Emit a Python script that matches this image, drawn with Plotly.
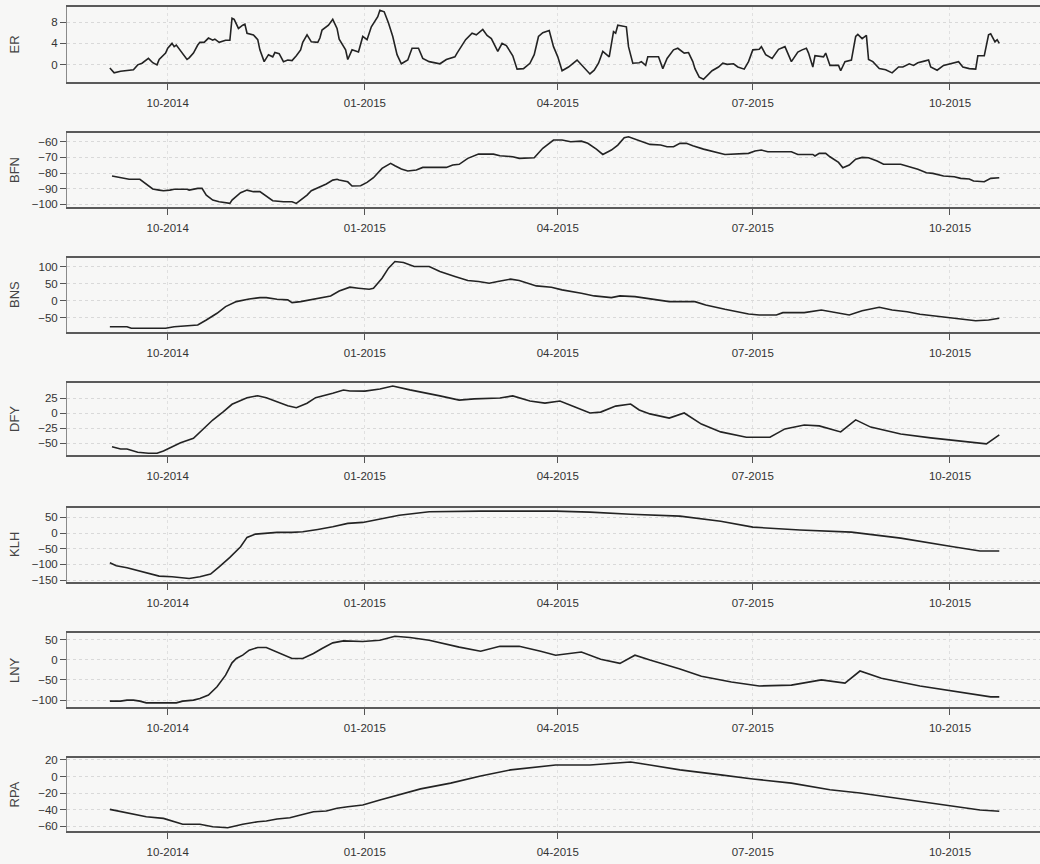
import pandas as pd
import plotly.graph_objects as go

base_date = pd.Timestamp("2014-10-01")

er_days = [-27,-25,-22,-19,-16,-14,-12,-9,-7,-5,-4,-1,0,2,3,4,7,9,10,12,14,15,17,19,21,22,24,27,29,30,31,33,35,36,37,40,42,43,45,47,49,50,52,54,56,58,60,62,63,65,67,70,71,72,75,77,79,80,83,84,86,89,91,93,95,98,99,101,103,105,107,109,112,114,117,119,122,127,130,134,135,139,142,144,147,149,151,154,156,158,161,163,166,169,171,173,175,178,180,182,184,187,191,194,197,199,201,203,206,208,209,210,214,215,217,220,221,223,224,229,231,233,236,238,241,243,244,245,246,248,250,252,254,257,259,261,264,266,269,271,273,276,277,279,282,285,288,291,294,296,298,299,301,302,306,307,309,313,314,316,319,321,322,324,326,327,329,332,335,338,341,343,346,348,350,353,355,356,359,362,367,369,371,374,377,378,381,383,384,386,387,388]
er_vals = [-0.6,-1.5,-1.2,-1.1,-0.9,0.0,0.3,1.2,0.4,0.0,1.0,2.2,3.1,4.0,3.4,3.7,2.2,1.0,1.3,2.2,3.7,4.2,4.2,5.0,4.6,4.8,4.2,4.6,4.6,8.7,8.5,6.8,7.4,7.6,5.9,5.6,4.7,2.8,0.6,1.9,1.5,2.3,2.1,0.6,0.9,0.8,1.7,2.8,4.2,5.6,4.3,4.2,5.0,6.5,7.4,8.5,6.8,4.8,2.8,1.0,2.8,2.4,5.3,4.7,7.1,9.0,10.2,9.9,7.8,5.3,1.9,0.2,0.9,3.1,3.1,1.2,0.6,0.2,1.0,1.5,2.2,4.7,5.9,5.6,6.6,5.5,4.9,2.5,4.0,3.6,1.7,-0.8,-0.7,0.3,1.9,5.3,6.0,6.4,3.4,1.5,-1.1,-0.4,0.9,-0.4,-1.7,-1.0,0.3,2.5,1.5,6.2,5.9,7.4,7.1,3.4,0.3,0.4,0.6,-0.1,1.5,1.5,-0.7,1.2,2.8,3.1,2.2,2.3,1.5,0.6,-0.7,-2.3,-2.7,-1.9,-1.1,-0.4,0.3,0.1,0.2,-0.4,-0.8,0.6,2.8,2.9,3.4,1.9,1.2,2.9,3.4,0.6,2.4,2.8,3.1,2.2,-0.4,1.7,1.5,2.2,-0.1,-0.1,-1.1,0.6,0.9,5.3,5.7,4.9,5.5,1.0,0.6,-0.7,-0.9,-1.5,-0.4,-0.4,0.2,-0.1,0.4,0.7,0.9,-0.4,-1.0,-0.1,0.3,0.6,-0.4,-0.7,-0.8,1.7,1.7,5.6,5.8,4.3,4.7,4.0]

bfn_days = [-26,-24,-21,-18,-13,-10,-7,-4,-2,1,3,9,10,14,16,18,21,24,29,30,34,37,40,43,46,49,54,58,60,62,65,67,71,74,77,79,80,84,86,90,93,96,100,104,106,109,112,116,119,130,133,136,140,145,152,155,161,164,171,175,180,184,188,193,196,200,203,207,210,213,215,217,221,225,230,233,236,239,242,245,250,256,260,271,274,277,280,291,294,301,302,304,307,309,313,315,318,321,324,327,331,334,342,346,350,354,357,362,367,370,374,376,381,384,388]
bfn_vals = [-81.9,-82.4,-83.4,-84.0,-84.0,-87.2,-90.2,-90.9,-91.3,-90.9,-90.4,-90.4,-90.9,-89.8,-89.8,-94.1,-97.3,-98.3,-99.4,-97.3,-92.6,-90.9,-91.9,-91.9,-95.1,-97.7,-98.3,-98.3,-99.4,-97.3,-94.1,-91.3,-88.8,-87.0,-84.5,-84.0,-84.5,-85.6,-88.3,-88.1,-86.0,-83.0,-77.0,-73.8,-75.3,-77.4,-78.7,-78.1,-76.4,-76.4,-74.9,-74.4,-70.6,-67.9,-67.9,-68.9,-69.6,-70.6,-70.2,-64.2,-58.9,-58.9,-60.0,-59.6,-61.0,-64.7,-68.1,-65.3,-62.1,-57.4,-56.8,-57.8,-60.0,-61.7,-62.1,-63.2,-63.2,-61.0,-61.0,-62.6,-64.7,-66.8,-68.1,-67.4,-65.9,-65.3,-66.4,-66.4,-68.1,-68.1,-69.1,-67.4,-67.4,-69.6,-73.2,-76.6,-74.9,-71.2,-70.0,-70.2,-72.3,-74.4,-74.4,-76.0,-77.6,-79.8,-80.2,-81.9,-82.4,-83.4,-83.8,-85.1,-85.6,-83.4,-83.0]

bns_days = [-27,-19,-17,-10,-1,3,9,14,18,23,27,32,38,43,46,51,56,58,62,66,71,76,80,85,89,94,96,100,103,106,110,115,122,127,134,140,145,150,154,160,164,168,172,179,184,193,199,207,211,218,226,234,246,251,260,266,271,276,284,287,297,305,310,318,324,332,338,345,351,360,368,377,383,388]
bns_vals = [-76.5,-76.5,-81.2,-81.2,-81.2,-76.5,-74.4,-71.5,-56.8,-37.1,-17.6,-2.9,5.0,8.8,8.8,4.1,2.1,-5.9,-2.9,2.1,7.1,13.8,28.0,39.4,36.5,33.5,36.5,65.9,95.3,114.7,111.8,100.0,100.0,85.3,70.6,58.8,55.9,51.2,55.9,62.9,58.8,51.2,43.2,39.4,31.5,21.8,13.8,8.8,13.8,11.8,4.1,-2.9,-2.9,-12.6,-25.3,-32.4,-39.1,-42.1,-42.1,-35.3,-35.3,-27.4,-32.4,-42.1,-29.5,-19.4,-27.4,-32.4,-40.0,-47.1,-51.8,-58.8,-56.8,-51.8]

dfy_days = [-26,-22,-19,-14,-9,-5,-2,2,6,12,16,21,26,30,37,42,46,51,56,60,65,69,73,77,82,85,92,99,105,113,127,136,143,155,161,169,176,183,190,197,202,209,216,220,225,229,234,241,249,258,270,281,288,297,304,314,321,328,342,356,370,382,388]
dfy_vals = [-55.7,-59.5,-59.5,-65.0,-66.7,-66.7,-62.8,-55.7,-49.0,-41.7,-27.8,-11.2,2.7,15.0,26.0,29.3,26.0,19.3,12.7,9.3,16.7,26.0,29.3,33.3,38.8,37.2,37.0,40.5,45.5,39.0,29.0,22.0,24.0,25.5,29.0,20.5,17.0,20.5,10.5,0.5,2.0,12.0,15.5,5.5,-1.0,-4.5,-8.0,0.5,-18.0,-31.0,-40.0,-40.0,-26.0,-19.5,-21.0,-31.0,-11.0,-23.0,-34.5,-41.0,-46.0,-51.0,-36.0]

klh_days = [-27,-24,-19,-13,-7,-4,2,6,10,15,20,24,29,34,37,41,46,51,58,63,70,77,84,91,108,122,146,181,197,216,239,258,273,295,319,342,365,379,388]
klh_vals = [-94.8,-104.4,-110.8,-121.3,-130.9,-137.2,-139.4,-142.6,-144.6,-139.4,-130.9,-107.6,-77.6,-43.8,-13.8,-3.3,-1.0,2.2,2.2,4.1,11.7,20.0,30.9,34.0,57.0,68.0,70.0,70.0,67.0,60.0,54.0,38.0,19.0,10.0,3.0,-16.0,-42.0,-57.0,-57.0]

lny_days = [-27,-22,-19,-16,-13,-10,4,7,12,15,19,23,27,30,32,35,38,42,46,51,56,58,63,68,72,77,82,91,99,106,113,122,136,146,155,164,174,181,193,202,211,218,225,239,249,263,276,291,305,316,323,333,351,370,384,388]
lny_vals = [-102.5,-102.5,-100.0,-100.0,-102.5,-106.7,-106.7,-102.5,-100.0,-95.8,-87.6,-67.1,-38.2,-7.8,3.1,11.2,23.6,30.2,30.2,19.4,8.7,3.1,3.1,15.4,27.8,41.6,46.5,45.0,48.0,58.0,55.0,48.0,31.0,21.0,33.0,33.0,21.0,11.0,19.0,1.0,-9.0,11.0,-1.0,-23.0,-41.0,-55.0,-65.0,-63.0,-50.0,-58.0,-28.0,-46.0,-65.0,-80.0,-92.0,-92.0]

rpa_days = [-27,-21,-16,-10,-2,2,7,15,21,28,30,35,42,46,51,57,62,68,74,79,84,91,99,108,118,132,146,160,174,181,197,211,216,225,239,258,273,291,309,323,342,361,379,388]
rpa_vals = [-39.8,-42.7,-45.5,-48.7,-50.7,-53.9,-57.9,-57.9,-60.8,-62.0,-60.8,-57.9,-54.8,-53.9,-51.5,-49.9,-46.7,-42.7,-41.8,-38.5,-36.6,-34.5,-28.5,-22.0,-15.0,-8.0,0.6,8.0,11.5,14.0,14.0,16.0,17.5,14.0,8.0,2.0,-3.0,-8.0,-16.0,-20.0,-27.0,-34.5,-40.6,-42.0]

names = ["ER", "BFN", "BNS", "DFY", "KLH", "LNY", "RPA"]
all_days = [er_days, bfn_days, bns_days, dfy_days, klh_days, lny_days, rpa_days]
all_vals = [er_vals, bfn_vals, bns_vals, dfy_vals, klh_vals, lny_vals, rpa_vals]
y_ranges = [[-3.2, 10.8], [-101.7, -54.4], [-92, 125], [-69.5, 50.5], [-156, 80], [-117, 66], [-66, 22.4]]
y_ticks = [[0, 4, 8], [-100, -90, -80, -70, -60], [-50, 0, 50, 100], [-50, -25, 0, 25],
           [-150, -100, -50, 0, 50], [-100, -50, 0, 50], [-60, -40, -20, 0, 20]]

W, H = 1040, 864
panels_px = [(7, 82), (133, 207), (258, 332), (383, 455), (508, 582), (633, 707), (758, 831)]
left_px = 67

x_range = ["2014-08-15", "2015-11-12"]
bg = "#f7f7f6"
fig = go.Figure()

for i, name in enumerate(names):
    n = i + 1
    suf = "" if n == 1 else str(n)
    dates = base_date + pd.to_timedelta(all_days[i], unit="D")
    fig.add_trace(go.Scatter(x=dates, y=all_vals[i], mode="lines",
                             line=dict(color="#232323", width=1.6),
                             xaxis="x" + suf, yaxis="y" + suf, showlegend=False,
                             hoverinfo="x+y"))
    top, bot = panels_px[i]
    dom = [1 - bot / H, 1 - top / H]
    fig.layout["xaxis" + suf] = dict(
        domain=[0, 1], anchor="y" + suf, range=x_range, type="date", automargin=False,
        tick0="2014-10-01", dtick="M3", tickformat="%m-%Y",
        ticks="outside", ticklen=6, tickwidth=1.3, tickcolor="#555",
        ticklabelstandoff=3,
        showline=True, linecolor="#5a5a5a", linewidth=1.5, mirror=True,
        showgrid=True, gridcolor="#e0e0e0", gridwidth=1, griddash="dot",
        tickfont=dict(family="Liberation Sans, Arial", size=11.5, color="#333"),
        zeroline=False)
    fig.layout["yaxis" + suf] = dict(
        domain=dom, anchor="x" + suf, range=y_ranges[i], tickvals=y_ticks[i], automargin=False,
        ticks="outside", ticklen=6, tickwidth=1.3, tickcolor="#555",
        showline=True, linecolor="#8a8a8a", linewidth=1, mirror=False,
        showgrid=True, gridcolor="#d9d9d9", gridwidth=1, griddash="dot",
        tickfont=dict(family="Liberation Sans, Arial", size=11.5, color="#333"),
        zeroline=False)
    fig.add_annotation(text=name, textangle=-90, xref="paper", yref="paper",
                       x=(14 - left_px) / (W - left_px), y=(dom[0] + dom[1]) / 2,
                       xanchor="center", yanchor="middle", showarrow=False,
                       font=dict(family="Liberation Sans, Arial", size=13, color="#444"))

fig.update_layout(width=W, height=H, margin=dict(l=left_px, r=0, t=0, b=0, autoexpand=False),
                  paper_bgcolor=bg, plot_bgcolor=bg)

fig.write_html("out.html", config={"displayModeBar": False},
               post_script="document.body.style.margin='0px';document.body.style.background='%s';" % bg)
